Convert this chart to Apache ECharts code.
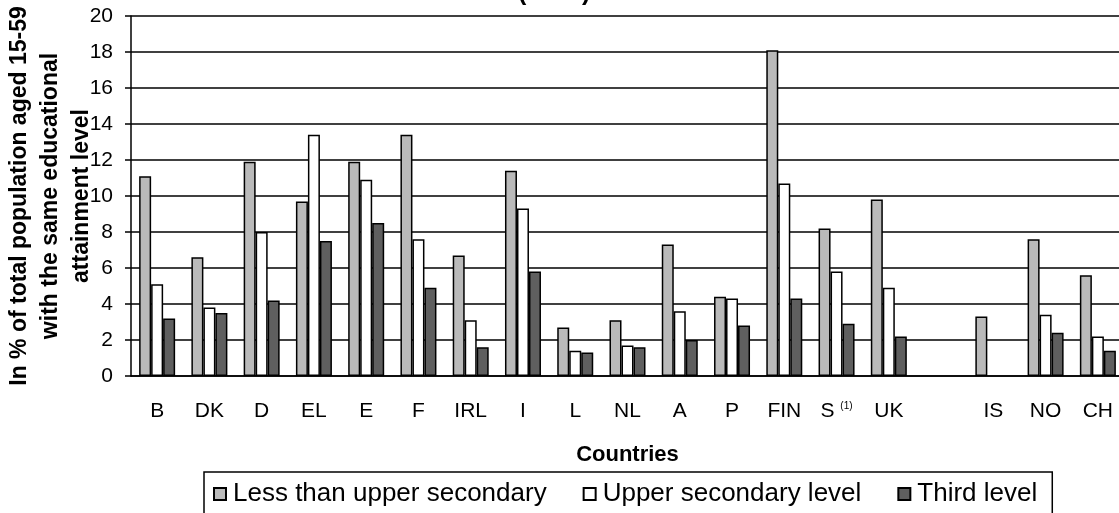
<!DOCTYPE html>
<html>
<head>
<meta charset="utf-8">
<script src="https://cdn.jsdelivr.net/npm/echarts@6/dist/echarts.min.js"></script>
<style>
  html, body { margin: 0; padding: 0; background: #fff; }
  #chart { width: 1119px; height: 513px; }
</style>
</head>
<body>
<div id="chart"></div>
<script>
  // countries, '' is the empty slot between UK and IS
  const countries = ['B', 'DK', 'D', 'EL', 'E', 'F', 'IRL', 'I', 'L', 'NL', 'A', 'P', 'FIN', 'S', 'UK', '', 'IS', 'NO', 'CH']
  const lessThanUpper = [11.1, 6.6, 11.9, 9.7, 11.9, 13.4, 6.7, 11.4, 2.7, 3.1, 7.3, 4.4, 18.1, 8.2, 9.8, null, 3.3, 7.6, 5.6]
  const upperSecondary = [5.1, 3.8, 8.0, 13.4, 10.9, 7.6, 3.1, 9.3, 1.4, 1.7, 3.6, 4.3, 10.7, 5.8, 4.9, null, null, 3.4, 2.2]
  const thirdLevel = [3.2, 3.5, 4.2, 7.5, 8.5, 4.9, 1.6, 5.8, 1.3, 1.6, 2.0, 2.8, 4.3, 2.9, 2.2, null, null, 2.4, 1.4]
  const yTicks = [0, 20, 2] // min, max, step

  const font = '"Liberation Sans", Arial, sans-serif'

  const chart = echarts.init(document.getElementById('chart'))

  function barSeries(name, data, color) {
    return {
      name: name,
      type: 'bar',
      data: data,
      barWidth: 12,
      barGap: '0%',
      itemStyle: {
        color: color,
        borderColor: '#000',
        borderWidth: 1.5
      }
    }
  }

  chart.setOption({
    animation: false,
    textStyle: { fontFamily: font },
    title: {
      text: '(2001)',
      left: 518,
      top: -19,
      padding: 0,
      textStyle: { fontFamily: font, fontSize: 25, fontWeight: 'bold', color: '#000' }
    },
    legend: {
      left: 204,
      top: 472,
      padding: [9, 15, 12, 9],
      borderColor: '#000',
      borderWidth: 1.5,
      itemWidth: 12,
      itemHeight: 12,
      itemGap: 36,
      icon: 'rect',
      textStyle: { fontFamily: font, fontSize: 26, color: '#000', padding: [0, 0, 0, 2] }
    },
    grid: {
      left: 131,
      right: -5,
      top: 16,
      bottom: 137,
      outerBoundsMode: 'none'
    },
    xAxis: {
      type: 'category',
      data: countries,
      name: 'Countries',
      nameLocation: 'middle',
      nameGap: 68,
      nameMoveOverlap: false,
      nameTextStyle: { fontFamily: font, fontSize: 22, fontWeight: 'bold', color: '#000' },
      axisLine: { lineStyle: { color: '#000', width: 1.5 } },
      axisTick: { length: 6, lineStyle: { color: '#000', width: 1.5 } },
      axisLabel: {
        interval: 0,
        margin: 25,
        fontFamily: font,
        fontSize: 21,
        color: '#000',
        formatter: function (v) {
          return v === 'S' ? '{a|S} {sup|(1)}' : v
        },
        rich: {
          a: { fontFamily: font, fontSize: 21, color: '#000' },
          sup: { fontFamily: font, fontSize: 10, color: '#000', verticalAlign: 'top', padding: [0, 0, 10, 0] }
        }
      }
    },
    yAxis: {
      type: 'value',
      min: yTicks[0],
      max: yTicks[1],
      interval: yTicks[2],
      name: 'In % of total population aged 15-59\nwith the same educational\nattainment level',
      nameLocation: 'middle',
      nameGap: 34,
      nameMoveOverlap: false,
      nameTextStyle: { fontFamily: font, fontSize: 23, fontWeight: 'bold', color: '#000', lineHeight: 31, align: 'center' },
      axisLine: { show: true, lineStyle: { color: '#000', width: 1.5 } },
      axisTick: { show: true, length: 6, lineStyle: { color: '#000', width: 1.5 } },
      axisLabel: { margin: 18, fontFamily: font, fontSize: 21, color: '#000' },
      splitLine: { lineStyle: { color: '#000', width: 1.5 } }
    },
    series: [
      barSeries('Less than upper secondary', lessThanUpper, '#bababa'),
      barSeries('Upper secondary level', upperSecondary, '#ffffff'),
      barSeries('Third level', thirdLevel, '#5f5f5f')
    ]
  })
</script>
</body>
</html>
